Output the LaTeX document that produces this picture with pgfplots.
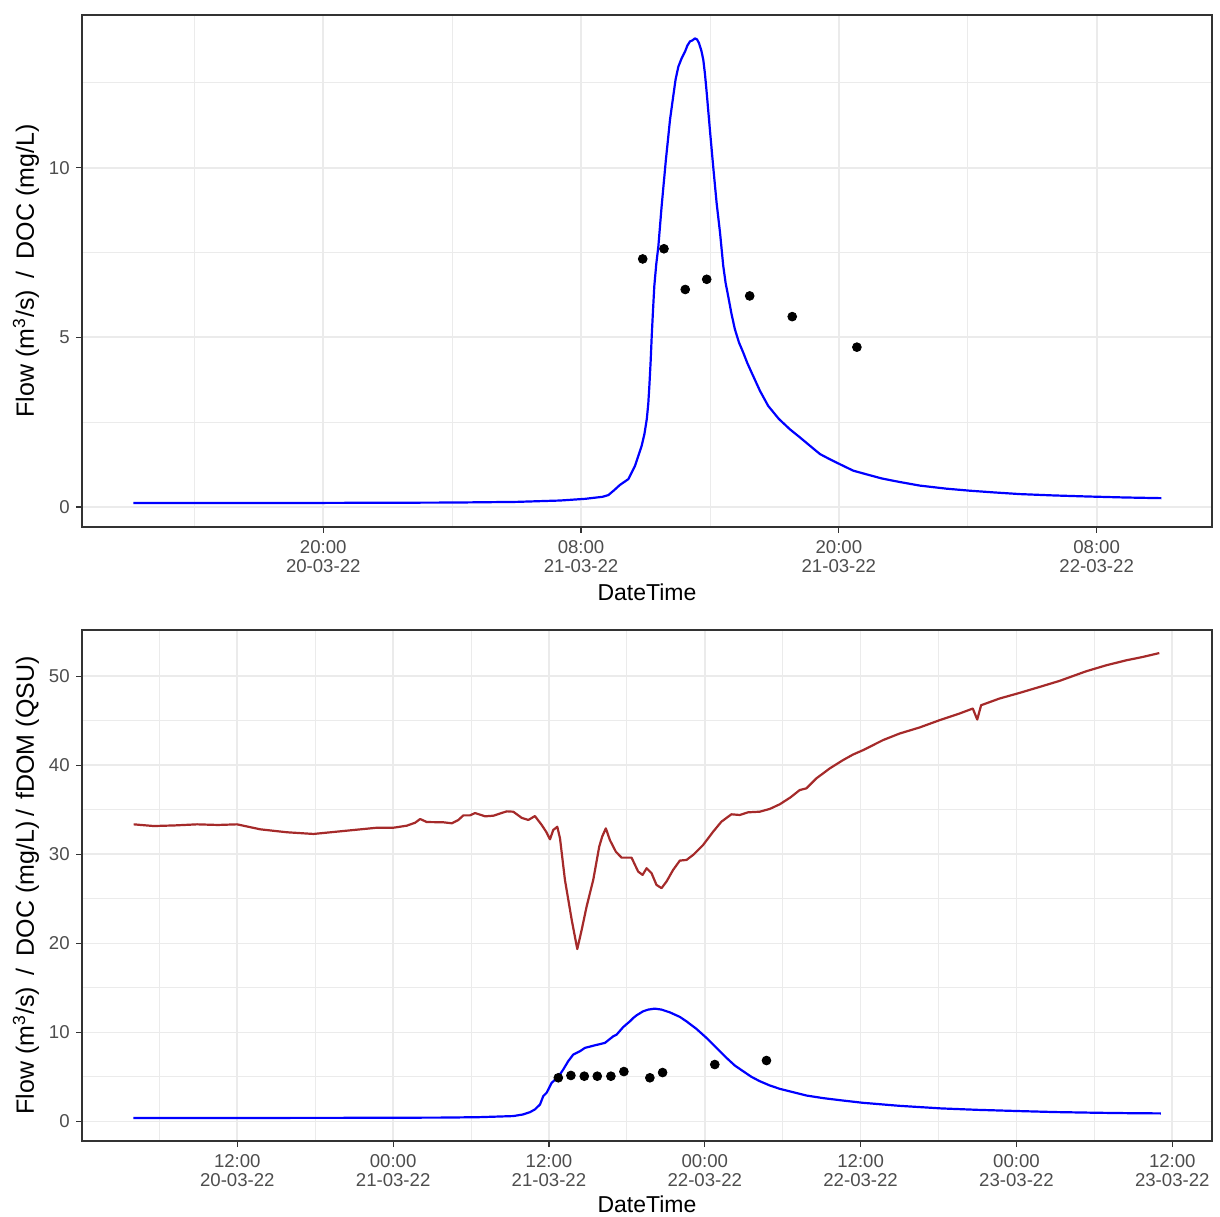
\documentclass[border=0pt]{standalone}
\usepackage{fontspec}
\setmainfont{Liberation Sans}
\usepackage{pgfplots}
\pgfplotsset{compat=1.18}
\usepackage{pgfplotstable}

\definecolor{gridcol}{HTML}{EBEBEB}
\definecolor{bordercol}{HTML}{333333}
\definecolor{labcol}{HTML}{4D4D4D}
\definecolor{fdomcol}{HTML}{A52A2A}
\definecolor{flowcol}{HTML}{0000FF}

\pgfplotstableread{
h v
11.16 0.12
14 0.12
20 0.12
26 0.13
29 0.15
30.5 0.18
31.02 0.19
32.19 0.24
33.0 0.30
33.27 0.35
33.55 0.50
33.81 0.65
34.2 0.82
34.51 1.21
34.82 1.80
34.95 2.15
35.06 2.59
35.13 3.05
35.18 3.57
35.24 4.30
35.29 5.04
35.35 5.80
35.41 6.51
35.5 7.15
35.6 7.69
35.75 8.86
35.85 9.55
35.95 10.24
36.05 10.85
36.14 11.41
36.29 12.1
36.4 12.6
36.53 12.98
36.68 13.22
36.84 13.42
36.95 13.6
37.07 13.72
37.18 13.75
37.3 13.81
37.4 13.78
37.49 13.67
37.6 13.45
37.69 13.18
37.77 12.75
37.85 12.2
38.0 11.1
38.15 10.04
38.31 8.96
38.47 8.08
38.62 7.1
38.73 6.6
38.85 6.21
39.0 5.7
39.16 5.24
39.35 4.85
39.55 4.55
39.74 4.24
39.94 3.96
40.33 3.42
40.71 2.98
41.2 2.6
41.72 2.29
42.19 2.05
42.7 1.78
43.12 1.56
43.6 1.40
44.05 1.26
44.67 1.07
45.3 0.96
46.0 0.84
46.8 0.74
47.77 0.63
49.0 0.54
50.09 0.48
51.2 0.43
52.42 0.38
54.0 0.34
55.52 0.31
57.3 0.28
59.01 0.26
}\topflow

\pgfplotstableread{
h v
34.87 7.31
35.86 7.61
36.85 6.41
37.85 6.71
39.85 6.22
41.83 5.61
44.84 4.71
}\topdoc

\pgfplotstableread{
h v
4.0 0.38
12 0.39
20 0.40
28 0.43
30.69 0.48
33.25 0.6
34.0 0.78
34.54 1.04
34.92 1.35
35.31 1.9
35.56 2.84
35.82 3.22
36.21 4.34
36.72 5.01
37.1 5.83
37.48 6.76
37.87 7.51
38.38 7.88
38.77 8.26
39.54 8.55
40.31 8.82
40.95 9.56
41.21 9.75
41.72 10.6
42.23 11.24
42.49 11.62
42.75 11.92
43.25 12.37
43.64 12.56
44.15 12.67
44.67 12.56
45.31 12.25
46.08 11.74
46.59 11.24
47.36 10.39
48.13 9.38
48.9 8.26
49.67 7.14
50.31 6.28
50.95 5.64
51.59 5.01
52.23 4.52
53.0 4.04
53.77 3.66
54.79 3.29
55.82 2.91
57.1 2.62
58.38 2.39
60.18 2.09
63.0 1.75
66.21 1.46
69.0 1.30
72.23 1.16
75.0 1.05
78.25 0.97
81.0 0.92
83.13 0.90
}\botflow

\pgfplotstableread{
h v
4.02 33.37
5.56 33.18
7.2 33.25
8.90 33.37
10.5 33.3
11.98 33.37
13.77 32.81
15.82 32.48
17.87 32.29
20.44 32.66
22.75 32.99
24.02 32.99
25.05 33.22
25.69 33.55
26.08 33.97
26.59 33.63
27.87 33.6
28.52 33.49
29.02 33.86
29.41 34.38
29.92 34.38
30.31 34.64
31.08 34.27
31.72 34.34
32.75 34.83
33.25 34.79
33.9 34.1
34.41 33.86
34.92 34.3
35.44 33.3
35.8 32.5
36.08 31.69
36.33 32.74
36.64 33.1
36.85 31.8
37.23 27.13
37.75 22.65
38.18 19.36
38.52 21.52
38.9 24.14
39.41 27.13
39.87 30.86
40.1 32.0
40.38 32.92
40.69 31.61
41.15 30.3
41.59 29.63
42.36 29.63
42.87 28.06
43.21 27.69
43.52 28.44
43.9 27.88
44.28 26.57
44.67 26.2
45.05 26.94
45.56 28.25
46.08 29.3
46.59 29.37
47.1 29.93
47.87 31.05
48.64 32.54
49.28 33.67
50.05 34.5
50.69 34.42
51.33 34.72
52.23 34.79
53.0 35.1
53.77 35.62
54.6 36.4
55.31 37.22
55.82 37.41
56.59 38.53
57.62 39.65
58.64 40.58
59.4 41.2
60.18 41.7
61.0 42.3
61.72 42.83
63.0 43.57
64.54 44.25
66.08 45.07
67.62 45.82
68.64 46.38
68.98 45.14
69.28 46.75
70.69 47.5
72.23 48.13
73.77 48.8
75.31 49.48
77.36 50.56
78.9 51.23
80.44 51.79
81.72 52.17
83.0 52.61
}\botfdom

\pgfplotstableread{
h v
36.72 4.9
37.69 5.16
38.72 5.08
39.72 5.08
40.77 5.08
41.77 5.6
43.77 4.9
44.75 5.49
48.77 6.39
52.75 6.84
}\botdoc

\pgfplotsset{
  ggstyle/.style={
    scale only axis,
    width=565pt,
    anchor=south west,
    axis line style={bordercol, line width=0.6pt},
    grid=both,
    major grid style={gridcol, line width=0.85pt},
    minor grid style={gridcol, line width=0.45pt},
    minor tick length=0pt,
    major tick length=3pt,
    tick align=outside,
    xtick pos=bottom,
    ytick pos=left,
    tick style={bordercol, line width=0.6pt},
    /pgf/number format/assume math mode=true,
    ticklabel style={font=\fontsize{9.3}{9.8}\selectfont, text=labcol},
    xticklabel style={align=center, inner sep=0pt, anchor=north, yshift=-3.5pt},
    yticklabel style={inner sep=0pt, anchor=east, xshift=-3pt},
    clip=true,
  },
}

\begin{document}
\begin{tikzpicture}
\useasboundingbox (0,0) rectangle (610pt,608pt);

% ---------- top panel ----------
\begin{axis}[ggstyle,
  at={(41pt,344.5pt)}, height=256pt,
  xmin=8.77, xmax=61.37, ymin=-0.59, ymax=14.5,
  xtick={20,32,44,56},
  xticklabels={{20:00\\20-03-22},{08:00\\21-03-22},{20:00\\21-03-22},{08:00\\22-03-22}},
  minor xtick={14,26,38,50},
  ytick={0,5,10}, minor ytick={2.5,7.5,12.5},
]
\addplot[flowcol, line width=1.1pt, no markers, line join=round] table[x=h,y=v]{\topflow};
\addplot[only marks, mark=*, mark size=2.2pt, black] table[x=h,y=v]{\topdoc};
\end{axis}

% ---------- bottom panel ----------
\begin{axis}[ggstyle,
  at={(41pt,37.5pt)}, height=255.5pt,
  xmin=0.04, xmax=87.06, ymin=-2.2, ymax=55.2,
  xtick={12,24,36,48,60,72,84},
  xticklabels={{12:00\\20-03-22},{00:00\\21-03-22},{12:00\\21-03-22},{00:00\\22-03-22},{12:00\\22-03-22},{00:00\\23-03-22},{12:00\\23-03-22}},
  minor xtick={6,18,30,42,54,66,78},
  ytick={0,10,20,30,40,50}, minor ytick={5,15,25,35,45},
]
\addplot[flowcol, line width=1.1pt, no markers, line join=round] table[x=h,y=v]{\botflow};
\addplot[fdomcol, line width=1.1pt, no markers, line join=round] table[x=h,y=v]{\botfdom};
\addplot[only marks, mark=*, mark size=2.2pt, black] table[x=h,y=v]{\botdoc};
\end{axis}

% ---------- axis titles ----------
\node[anchor=base, font=\fontsize{11.5}{13}\selectfont] at (323.5pt,307.5pt) {DateTime};
\node[anchor=base, font=\fontsize{11.5}{13}\selectfont] at (323.5pt,1.6pt) {DateTime};
\node[anchor=base, rotate=90, font=\fontsize{12.5}{14}\selectfont] at (16.9pt,472.5pt)
  {Flow (m\textsuperscript{3}/s)\hspace{6pt}/\hspace{6pt}DOC (mg/L)};
\node[anchor=base, rotate=90, font=\fontsize{12.5}{14}\selectfont] at (16.9pt,165.25pt)
  {Flow (m\textsuperscript{3}/s)\hspace{6pt}/\hspace{6pt}DOC (mg/L)\hspace{2.5pt}/\hspace{5pt}fDOM (QSU)};
\end{tikzpicture}
\end{document}
